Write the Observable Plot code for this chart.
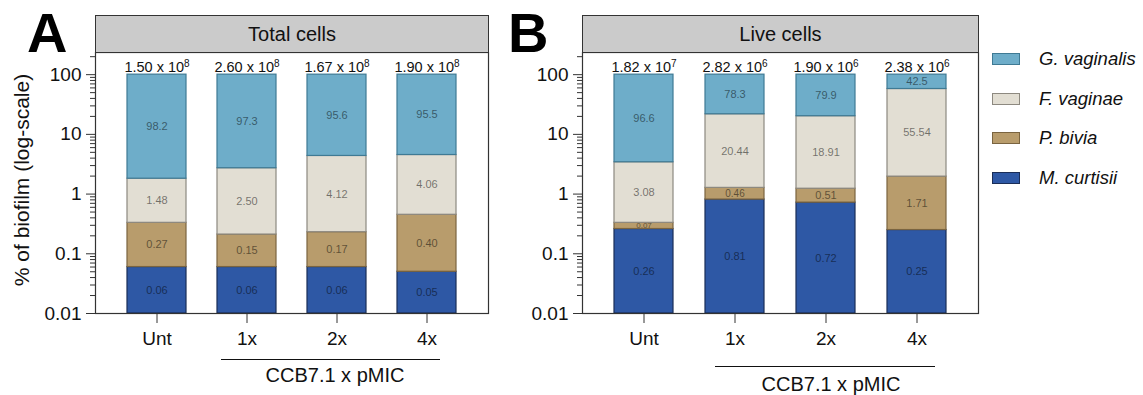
<!DOCTYPE html>
<html>
<head>
<meta charset="utf-8">
<script src="https://cdn.jsdelivr.net/npm/d3@7"></script>
<script src="https://cdn.jsdelivr.net/npm/@observablehq/plot@0.6"></script>
<style>
  html, body { margin: 0; padding: 0; background: #fff; }
  body { width: 1143px; height: 395px; overflow: hidden; font-family: "Liberation Sans", Arial, sans-serif; }
  #root { position: relative; width: 1143px; height: 395px; }
  .abs { position: absolute; }
  .panelLetter { font-weight: bold; font-size: 56px; line-height: 1; color: #000; }
  .titleBox { background: #cbcbcb; border: 1.2px solid #333; box-sizing: border-box; font-size: 20px; display: flex; align-items: center; justify-content: center; color: #111; }
  .bracket { border-top: 1.5px solid #111; height: 0; }
  .groupLabel { font-size: 20px; color: #111; text-align: center; white-space: nowrap; }
  .ylab { font-size: 21px; color: #111; white-space: nowrap; transform: translate(-50%, -50%) rotate(-90deg); }
  .legRow { display: flex; align-items: center; }
  .sw { width: 28px; height: 12px; box-sizing: border-box; border: 1.2px solid; margin-right: 19px; }
  .legText { font-size: 18.5px; font-style: italic; color: #111; white-space: nowrap; }
</style>
</head>
<body>
<div id="root"></div>
<script>
// ---------- data ----------
const groups = ["Unt", "1x", "2x", "4x"];
const species = ["M. curtisii", "P. bivia", "F. vaginae", "G. vaginalis"]; // bottom to top
const speciesFill = ["#2e58a5", "#b89c6c", "#e2ded3", "#6eadc9"];
const speciesStroke = ["#1a2d57", "#7a6440", "#8d8980", "#3f7a94"];
const speciesDecimals = [2, 2, 2, 1];
const legendOrder = ["G. vaginalis", "F. vaginae", "P. bivia", "M. curtisii"];

// Panel A: Total cells (% of biofilm)
const totalMcurtisii = [0.06, 0.06, 0.06, 0.05];
const totalPbivia = [0.27, 0.15, 0.17, 0.40];
const totalFvaginae = [1.48, 2.50, 4.12, 4.06];
const totalGvaginalis = [98.2, 97.3, 95.6, 95.5];
const totalCountMantissa = [1.50, 2.60, 1.67, 1.90];
const totalCountExponent = [8, 8, 8, 8];

// Panel B: Live cells (% of biofilm)
const liveMcurtisii = [0.26, 0.81, 0.72, 0.25];
const livePbivia = [0.07, 0.46, 0.51, 1.71];
const liveFvaginae = [3.08, 20.44, 18.91, 55.54];
const liveGvaginalis = [96.6, 78.3, 79.9, 42.5];
const liveCountMantissa = [1.82, 2.82, 1.90, 2.38];
const liveCountExponent = [7, 6, 6, 6];

const yTicks = [0.01, 0.1, 1, 10, 100];
const yTickLabels = ["0.01", "0.1", "1", "10", "100"];
const yDomain = [0.01, 235];
const panelTitles = ["Total cells", "Live cells"];
const panelLetters = ["A", "B"];
const bracketLabel = "CCB7.1 x pMIC";
const yLabel = "% of biofilm (log-scale)";

// ---------- helpers ----------
const minorTicks = [];
for (let e = -2; e <= 2; e++) for (let k = 2; k <= 9; k++) {
  const v = k * Math.pow(10, e);
  if (v <= yDomain[1]) minorTicks.push(+v.toPrecision(3));
}

function stackRows(seriesList) {
  const rows = [];
  groups.forEach((g, i) => {
    let cum = 0;
    seriesList.forEach((arr, s) => {
      const v = arr[i];
      const lo = Math.max(cum, yDomain[0]);
      cum += v;
      const hi = cum;
      rows.push({group: g, s, species: species[s], value: v, lo, hi,
                 label: v.toFixed(speciesDecimals[s]),
                 fs: hi / lo < 1.4 ? 8 : (hi / lo < 1.65 ? 10 : 11)});
    });
  });
  return rows;
}

function countRows(seriesList, mant, expo) {
  return groups.map((g, i) => ({
    group: g,
    top: seriesList.reduce((a, arr) => a + arr[i], 0),
    text: mant[i].toFixed(2) + " x 10^" + expo[i]
  }));
}

function makePanel(seriesList, mant, expo, marginRight) {
  const rows = stackRows(seriesList);
  const counts = countRows(seriesList, mant, expo);
  const marks = [];
  species.forEach((sp, s) => {
    marks.push(Plot.rectY(rows.filter(d => d.s === s), {
      x: "group", y1: "lo", y2: "hi",
      fill: speciesFill[s], stroke: speciesStroke[s], strokeWidth: 1.2
    }));
  });
  marks.push(Plot.text(rows, {
    x: "group", y: d => Math.sqrt(d.lo * d.hi), text: "label",
    fontSize: "fs", fill: "#000", fillOpacity: 0.5
  }));
  marks.push(Plot.text(counts, {
    x: "group", y: "top", text: "text", lineAnchor: "bottom", dy: -3,
    fontSize: 14.5, fill: "#111"
  }));
  marks.push(Plot.frame({stroke: "#333", strokeWidth: 1.2}));
  marks.push(Plot.axisY({ticks: minorTicks, tickSize: 5, tickFormat: () => "", stroke: "#333", label: null}));
  marks.push(Plot.axisY({ticks: yTicks, tickSize: 9, tickPadding: 5,
    tickFormat: d => yTickLabels[yTicks.indexOf(d)], fontSize: 19, fill: "#111", stroke: "#333", label: null}));
  marks.push(Plot.axisX({tickSize: 10, tickPadding: 8, fontSize: 19, fill: "#111", stroke: "#333", label: null}));
  const svg = Plot.plot({
    width: 500, height: 395,
    marginLeft: 95, marginRight, marginTop: 52, marginBottom: 82,
    x: {type: "band", domain: groups, paddingInner: 0.348, paddingOuter: 0.345},
    y: {type: "log", domain: yDomain},
    style: {background: "none", fontFamily: "'Liberation Sans', Arial, sans-serif", overflow: "visible"},
    marks
  });
  // turn "a x 10^n" into a real superscript
  const SVGNS = "http://www.w3.org/2000/svg";
  Array.from(svg.querySelectorAll("text, tspan")).forEach(t => {
    if (t.children.length) return;
    const txt = t.textContent;
    if (!txt.includes("^")) return;
    const [base, e] = txt.split("^");
    t.textContent = base;
    const ts = document.createElementNS(SVGNS, "tspan");
    ts.setAttribute("dy", "-0.42em");
    ts.setAttribute("font-size", "10px");
    ts.textContent = e;
    t.appendChild(ts);
  });
  return svg;
}

// ---------- layout ----------
const root = document.getElementById("root");
function addDiv(cls, css, html) {
  const d = document.createElement("div");
  d.className = "abs " + cls;
  Object.assign(d.style, css);
  if (html != null) d.innerHTML = html;
  root.appendChild(d);
  return d;
}

const panels = [
  {series: [totalMcurtisii, totalPbivia, totalFvaginae, totalGvaginalis], mant: totalCountMantissa, expo: totalCountExponent,
   left: 0, marginRight: 12, letterX: 27, titleL: 95, titleR: 488,
   brL: 221, brR: 440, brY: 359, brTextX: 335, brTextTop: 364},
  {series: [liveMcurtisii, livePbivia, liveFvaginae, liveGvaginalis], mant: liveCountMantissa, expo: liveCountExponent,
   left: 487, marginRight: 9, letterX: 508, titleL: 582, titleR: 978,
   brL: 715, brR: 935, brY: 366, brTextX: 831, brTextTop: 373}
];

panels.forEach((p, i) => {
  const holder = addDiv("", {left: p.left + "px", top: "0px", width: "500px", height: "395px"});
  holder.appendChild(makePanel(p.series, p.mant, p.expo, p.marginRight));
  addDiv("titleBox", {left: p.titleL + "px", top: "15px", width: (p.titleR - p.titleL + 1) + "px", height: "38px"}, panelTitles[i]);
  addDiv("panelLetter", {left: p.letterX + "px", top: "5px"}, panelLetters[i]);
  addDiv("bracket", {left: p.brL + "px", top: p.brY + "px", width: (p.brR - p.brL) + "px"});
  addDiv("groupLabel", {left: p.brTextX + "px", top: p.brTextTop + "px", transform: "translateX(-50%)"}, bracketLabel);
});

addDiv("ylab", {left: "22px", top: "180px"}, yLabel);

legendOrder.forEach((name, j) => {
  const s = species.indexOf(name);
  const row = addDiv("legRow", {left: "992px", top: (59 + j * 39.7 - 12) + "px", height: "24px"});
  row.innerHTML = `<div class="sw" style="background:${speciesFill[s]};border-color:${speciesStroke[s]}"></div><span class="legText">${name}</span>`;
});
</script>
</body>
</html>
